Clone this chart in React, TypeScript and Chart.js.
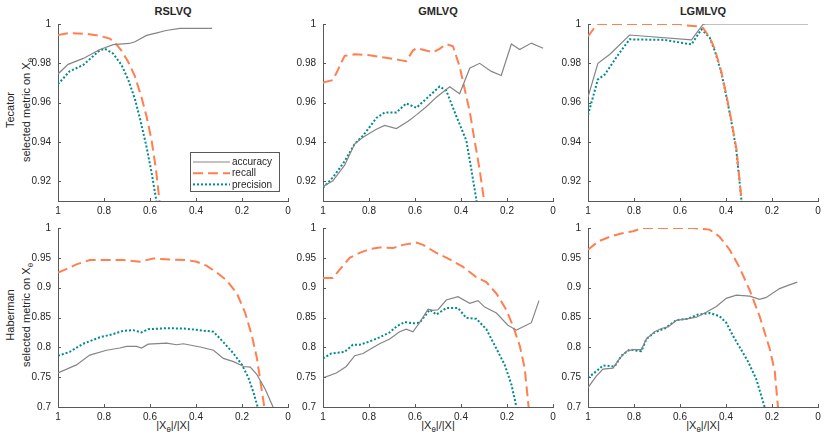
import React, { useEffect, useRef } from 'react';
import { Chart, registerables } from 'chart.js';

Chart.register(...registerables);

const FONT = "'Liberation Sans', Arial, Helvetica, sans-serif";
const AXIS = '#595959';
const TEXT = '#262626';

const METHODS = ['RSLVQ', 'GMLVQ', 'LGMLVQ'];
const DATASETS = ['Tecator', 'Haberman'];
const LEGEND_LABELS = ['accuracy', 'recall', 'precision'];

const X_TICKS = [0, 0.2, 0.4, 0.6, 0.8, 1];
const TOP_Y_TICKS = [0.92, 0.94, 0.96, 0.98, 1];
const BOT_Y_TICKS = [0.7, 0.75, 0.8, 0.85, 0.9, 0.95, 1];
const Y_MIN = [0.91, 0.7];

// ---- Tecator / RSLVQ
const TEC_RSLVQ_ACC_X = [1, 0.956, 0.89, 0.82, 0.76, 0.69, 0.665, 0.615, 0.57, 0.53, 0.47, 0.33];
const TEC_RSLVQ_ACC_Y = [0.9746, 0.9795, 0.9825, 0.9869, 0.9895, 0.9901, 0.991, 0.9942, 0.9955, 0.9967, 0.9978, 0.9978];
const TEC_RSLVQ_REC_X = [1, 0.95, 0.875, 0.82, 0.775, 0.753, 0.724, 0.695, 0.666, 0.637, 0.615, 0.593, 0.574, 0.56, 0.54];
const TEC_RSLVQ_REC_Y = [0.9944, 0.9954, 0.995, 0.994, 0.9926, 0.9906, 0.9865, 0.9808, 0.9735, 0.9628, 0.953, 0.9408, 0.926, 0.9113, 0.89];
const TEC_RSLVQ_PRE_X = [1, 0.95, 0.89, 0.82, 0.797, 0.76, 0.724, 0.695, 0.666, 0.644, 0.615, 0.593, 0.574, 0.55];
const TEC_RSLVQ_PRE_Y = [0.9694, 0.9759, 0.9792, 0.9865, 0.9874, 0.9849, 0.9792, 0.9718, 0.962, 0.9522, 0.9375, 0.9244, 0.9113, 0.89];

// ---- Tecator / GMLVQ
const TEC_GMLVQ_ACC_X = [1, 0.957, 0.906, 0.862, 0.826, 0.768, 0.732, 0.681, 0.63, 0.594, 0.551, 0.507, 0.449, 0.406, 0.362, 0.319, 0.268, 0.225, 0.181, 0.145, 0.094, 0.043];
const TEC_GMLVQ_ACC_Y = [0.9174, 0.9203, 0.9282, 0.9391, 0.9424, 0.9465, 0.9484, 0.9468, 0.9506, 0.9538, 0.9579, 0.9628, 0.9681, 0.9645, 0.9775, 0.98, 0.9759, 0.9738, 0.9898, 0.987, 0.9903, 0.9877];
const TEC_GMLVQ_REC_X = [1, 0.957, 0.935, 0.906, 0.862, 0.797, 0.725, 0.638, 0.609, 0.594, 0.522, 0.493, 0.464, 0.435, 0.406, 0.384, 0.362, 0.341, 0.319, 0.3, 0.28];
const TEC_GMLVQ_REC_Y = [0.9702, 0.9715, 0.9767, 0.9838, 0.9846, 0.9841, 0.9828, 0.9811, 0.9865, 0.9877, 0.9857, 0.9874, 0.9898, 0.9887, 0.9784, 0.9669, 0.9555, 0.9408, 0.926, 0.9105, 0.89];
const TEC_GMLVQ_PRE_X = [1, 0.957, 0.906, 0.862, 0.826, 0.768, 0.732, 0.681, 0.638, 0.594, 0.551, 0.493, 0.464, 0.42, 0.377, 0.355, 0.333, 0.32];
const TEC_GMLVQ_PRE_Y = [0.9167, 0.922, 0.9302, 0.9391, 0.9432, 0.9522, 0.955, 0.955, 0.9596, 0.9574, 0.962, 0.9682, 0.9661, 0.953, 0.9408, 0.926, 0.9105, 0.89];

// ---- Tecator / LGMLVQ
const TEC_LGMLVQ_ACC_X = [1, 0.957, 0.906, 0.819, 0.55, 0.5, 0.486, 0.043];
const TEC_LGMLVQ_ACC_Y = [0.9628, 0.98, 0.9845, 0.9944, 0.9919, 0.9998, 1, 1];
const TEC_LGMLVQ_REC_X = [1, 0.978, 0.957, 0.6, 0.572, 0.529, 0.5, 0.471, 0.449, 0.42, 0.399, 0.377, 0.355, 0.333, 0.32];
const TEC_LGMLVQ_REC_Y = [0.9937, 0.9972, 1, 1, 0.9993, 0.9988, 0.998, 0.9931, 0.9874, 0.9756, 0.9642, 0.9512, 0.9366, 0.9113, 0.89];
const TEC_LGMLVQ_PRE_X = [1, 0.957, 0.927, 0.87, 0.819, 0.667, 0.55, 0.507, 0.471, 0.449, 0.42, 0.399, 0.377, 0.355, 0.333, 0.32];
const TEC_LGMLVQ_PRE_Y = [0.9538, 0.9718, 0.9743, 0.9842, 0.9922, 0.9919, 0.9896, 0.9973, 0.9931, 0.9865, 0.9751, 0.9636, 0.9506, 0.9358, 0.9104, 0.89];

// ---- Haberman / RSLVQ
const HAB_RSLVQ_ACC_X = [1, 0.92, 0.862, 0.789, 0.731, 0.702, 0.658, 0.637, 0.608, 0.528, 0.484, 0.455, 0.382, 0.324, 0.281, 0.237, 0.193, 0.164, 0.135, 0.099, 0.065, 0.055];
const HAB_RSLVQ_ACC_Y = [0.757, 0.7706, 0.787, 0.7951, 0.7989, 0.8016, 0.8016, 0.7989, 0.8054, 0.807, 0.8043, 0.806, 0.8005, 0.7951, 0.7815, 0.7761, 0.7679, 0.7668, 0.7543, 0.7299, 0.7, 0.69];
const HAB_RSLVQ_REC_X = [1, 0.964, 0.92, 0.862, 0.789, 0.717, 0.644, 0.586, 0.513, 0.44, 0.397, 0.353, 0.31, 0.266, 0.222, 0.186, 0.157, 0.135, 0.118, 0.103, 0.09];
const HAB_RSLVQ_REC_Y = [0.9255, 0.931, 0.9391, 0.9462, 0.9462, 0.9462, 0.9435, 0.9489, 0.9473, 0.9462, 0.9435, 0.9364, 0.9255, 0.912, 0.8902, 0.8576, 0.8196, 0.7815, 0.738, 0.7, 0.65];
const HAB_RSLVQ_PRE_X = [1, 0.949, 0.891, 0.818, 0.76, 0.717, 0.673, 0.637, 0.608, 0.528, 0.455, 0.397, 0.324, 0.281, 0.237, 0.2, 0.172, 0.15, 0.132, 0.12];
const HAB_RSLVQ_PRE_Y = [0.7859, 0.7924, 0.806, 0.8168, 0.8223, 0.8277, 0.8288, 0.825, 0.8304, 0.8321, 0.8315, 0.8293, 0.8261, 0.8087, 0.7897, 0.7706, 0.7489, 0.7244, 0.7, 0.66];

// ---- Haberman / GMLVQ
const HAB_GMLVQ_ACC_X = [1, 0.942, 0.899, 0.862, 0.826, 0.797, 0.754, 0.71, 0.667, 0.638, 0.609, 0.58, 0.543, 0.522, 0.5, 0.464, 0.413, 0.362, 0.326, 0.297, 0.246, 0.196, 0.159, 0.094, 0.061];
const HAB_GMLVQ_ACC_Y = [0.7489, 0.757, 0.7679, 0.7859, 0.7897, 0.7962, 0.806, 0.8141, 0.8261, 0.8304, 0.8261, 0.8413, 0.8641, 0.862, 0.863, 0.8793, 0.8848, 0.8739, 0.8783, 0.8674, 0.8576, 0.837, 0.8288, 0.8413, 0.8783];
const HAB_GMLVQ_REC_X = [1, 0.957, 0.92, 0.884, 0.841, 0.797, 0.754, 0.696, 0.652, 0.594, 0.565, 0.507, 0.449, 0.391, 0.333, 0.29, 0.246, 0.203, 0.174, 0.145, 0.123, 0.106, 0.09];
const HAB_GMLVQ_REC_Y = [0.9163, 0.9163, 0.9337, 0.95, 0.9582, 0.9647, 0.9674, 0.9663, 0.9717, 0.9755, 0.9717, 0.9582, 0.9473, 0.9348, 0.9174, 0.9092, 0.8902, 0.863, 0.8359, 0.8033, 0.7652, 0.7, 0.6];
const HAB_GMLVQ_PRE_X = [1, 0.964, 0.906, 0.87, 0.841, 0.797, 0.754, 0.71, 0.681, 0.645, 0.609, 0.58, 0.536, 0.507, 0.464, 0.413, 0.377, 0.333, 0.29, 0.246, 0.21, 0.181, 0.159, 0.15];
const HAB_GMLVQ_PRE_Y = [0.7815, 0.7897, 0.7924, 0.8043, 0.8043, 0.8098, 0.8168, 0.825, 0.8348, 0.8424, 0.8402, 0.8413, 0.863, 0.8549, 0.8658, 0.8658, 0.8494, 0.8478, 0.8304, 0.7978, 0.7706, 0.738, 0.7, 0.67];

// ---- Haberman / LGMLVQ
const HAB_LGMLVQ_ACC_X = [1, 0.964, 0.935, 0.891, 0.862, 0.833, 0.804, 0.768, 0.746, 0.71, 0.681, 0.652, 0.616, 0.572, 0.529, 0.486, 0.442, 0.399, 0.355, 0.297, 0.254, 0.225, 0.167, 0.13, 0.09];
const HAB_LGMLVQ_ACC_Y = [0.7326, 0.7516, 0.7636, 0.7652, 0.7815, 0.7935, 0.7962, 0.7962, 0.8141, 0.8261, 0.8315, 0.8342, 0.8451, 0.8478, 0.8505, 0.8587, 0.8685, 0.8821, 0.8875, 0.8859, 0.8804, 0.8837, 0.8984, 0.9038, 0.9092];
const HAB_LGMLVQ_REC_X = [1, 0.957, 0.906, 0.855, 0.804, 0.761, 0.543, 0.471, 0.428, 0.384, 0.341, 0.297, 0.254, 0.21, 0.188, 0.174, 0.16];
const HAB_LGMLVQ_REC_Y = [0.9636, 0.9772, 0.9853, 0.9908, 0.9946, 1, 1, 0.9973, 0.9853, 0.9636, 0.9337, 0.8957, 0.8522, 0.7978, 0.7598, 0.7, 0.62];
const HAB_LGMLVQ_PRE_X = [1, 0.964, 0.935, 0.884, 0.855, 0.819, 0.768, 0.746, 0.71, 0.667, 0.616, 0.565, 0.522, 0.471, 0.428, 0.399, 0.37, 0.341, 0.304, 0.268, 0.232, 0.22];
const HAB_LGMLVQ_PRE_Y = [0.7489, 0.7598, 0.7696, 0.7679, 0.7859, 0.7962, 0.7935, 0.8141, 0.825, 0.8315, 0.8456, 0.8478, 0.8549, 0.8576, 0.8522, 0.8413, 0.8196, 0.8005, 0.7761, 0.7462, 0.7, 0.68];

// panel grid: [row][col] -> [acc, rec, pre] as [xs, ys]
const PANELS: [number[], number[]][][][] = [
  [
    [[TEC_RSLVQ_ACC_X, TEC_RSLVQ_ACC_Y], [TEC_RSLVQ_REC_X, TEC_RSLVQ_REC_Y], [TEC_RSLVQ_PRE_X, TEC_RSLVQ_PRE_Y]],
    [[TEC_GMLVQ_ACC_X, TEC_GMLVQ_ACC_Y], [TEC_GMLVQ_REC_X, TEC_GMLVQ_REC_Y], [TEC_GMLVQ_PRE_X, TEC_GMLVQ_PRE_Y]],
    [[TEC_LGMLVQ_ACC_X, TEC_LGMLVQ_ACC_Y], [TEC_LGMLVQ_REC_X, TEC_LGMLVQ_REC_Y], [TEC_LGMLVQ_PRE_X, TEC_LGMLVQ_PRE_Y]],
  ],
  [
    [[HAB_RSLVQ_ACC_X, HAB_RSLVQ_ACC_Y], [HAB_RSLVQ_REC_X, HAB_RSLVQ_REC_Y], [HAB_RSLVQ_PRE_X, HAB_RSLVQ_PRE_Y]],
    [[HAB_GMLVQ_ACC_X, HAB_GMLVQ_ACC_Y], [HAB_GMLVQ_REC_X, HAB_GMLVQ_REC_Y], [HAB_GMLVQ_PRE_X, HAB_GMLVQ_PRE_Y]],
    [[HAB_LGMLVQ_ACC_X, HAB_LGMLVQ_ACC_Y], [HAB_LGMLVQ_REC_X, HAB_LGMLVQ_REC_Y], [HAB_LGMLVQ_PRE_X, HAB_LGMLVQ_PRE_Y]],
  ],
];

const STYLES = [
  { borderColor: '#858585', borderWidth: 1.2, borderDash: [] as number[] },
  { borderColor: '#ff7f50', borderWidth: 2, borderDash: [10, 5] },
  { borderColor: '#008b8b', borderWidth: 2, borderDash: [2, 2] },
];

// layout (px)
const PLOT_LEFT = [58, 323, 588];
const PLOT_W = 230;
const ROW_TOP = [19, 223];
const ROW_BOTTOM = [201, 407];
const PAD_L = 44, PAD_R = 12, PAD_T = 8, PAD_B = 20;

const fmt = (v: number | string) => String(parseFloat(Number(v).toFixed(2)));

const inwardTicks = {
  id: 'inwardTicks',
  afterDraw(chart: any) {
    const { ctx, chartArea: a, scales: { x, y } } = chart;
    ctx.save();
    ctx.strokeStyle = AXIS;
    ctx.lineWidth = 1;
    ctx.beginPath();
    x.ticks.forEach((t: any) => {
      const px = Math.round(x.getPixelForValue(t.value)) + 0.5;
      ctx.moveTo(px, a.bottom); ctx.lineTo(px, a.bottom - 3);
    });
    y.ticks.forEach((t: any) => {
      const py = Math.round(y.getPixelForValue(t.value)) + 0.5;
      ctx.moveTo(a.left, py); ctx.lineTo(a.left + 3, py);
    });
    ctx.stroke();
    ctx.restore();
  },
};

const legendBox = {
  id: 'legendBox',
  afterDraw(chart: any) {
    const { ctx, chartArea: a } = chart;
    const w = 89, h = 39;
    const left = Math.round(a.right - 9 - w), top = Math.round(a.bottom - 10 - h);
    ctx.save();
    ctx.fillStyle = '#fff';
    ctx.fillRect(left, top, w, h);
    ctx.strokeStyle = AXIS;
    ctx.lineWidth = 1;
    ctx.strokeRect(left + 0.5, top + 0.5, w, h);
    chart.data.datasets.forEach((ds: any, i: number) => {
      const yy = top + 10 + i * 11.2;
      ctx.beginPath();
      ctx.setLineDash(ds.borderDash || []);
      ctx.strokeStyle = ds.borderColor;
      ctx.lineWidth = ds.borderWidth;
      ctx.moveTo(left + 3, yy);
      ctx.lineTo(left + 40, yy);
      ctx.stroke();
      ctx.setLineDash([]);
      ctx.fillStyle = TEXT;
      ctx.font = `10px ${FONT}`;
      ctx.textBaseline = 'middle';
      ctx.fillText(ds.label, left + 42, yy + 0.5);
    });
    ctx.restore();
  },
};

function Panel({ row, col }: { row: number; col: number }) {
  const ref = useRef<HTMLCanvasElement>(null);
  const h = ROW_BOTTOM[row] - ROW_TOP[row];

  useEffect(() => {
    if (!ref.current) return;
    const yTicks = row === 0 ? TOP_Y_TICKS : BOT_Y_TICKS;
    const chart = new Chart(ref.current, {
      type: 'line',
      data: {
        datasets: PANELS[row][col].map(([xs, ys], i) => ({
          label: LEGEND_LABELS[i],
          data: xs.map((x, j) => ({ x, y: ys[j] })),
          ...STYLES[i],
          fill: false,
          tension: 0,
          pointRadius: 0,
          pointHoverRadius: 0,
        })),
      },
      options: {
        responsive: false,
        animation: false,
        events: [],
        layout: { padding: { left: 0, right: PAD_R, top: PAD_T, bottom: 0 } },
        plugins: { legend: { display: false }, tooltip: { enabled: false }, title: { display: false } },
        scales: {
          x: {
            type: 'linear',
            min: 0,
            max: 1,
            reverse: true,
            afterBuildTicks: (s: any) => { s.ticks = X_TICKS.map(value => ({ value })); },
            afterFit: (s: any) => { s.height = PAD_B; },
            grid: { display: false, drawTicks: false },
            border: { display: true, color: AXIS, width: 1 },
            ticks: { padding: 4, autoSkip: false, maxRotation: 0, color: TEXT, font: { family: FONT, size: 10 }, callback: (v: any) => fmt(v) },
          },
          y: {
            type: 'linear',
            min: Y_MIN[row],
            max: 1,
            afterBuildTicks: (s: any) => { s.ticks = yTicks.map(value => ({ value })); },
            afterFit: (s: any) => { s.width = PAD_L; },
            grid: { display: false, drawTicks: false },
            border: { display: true, color: AXIS, width: 1 },
            ticks: { padding: 7, autoSkip: false, color: TEXT, font: { family: FONT, size: 10 }, callback: (v: any) => fmt(v) },
          },
        },
      } as any,
      plugins: row === 0 && col === 0 ? [inwardTicks, legendBox] : [inwardTicks],
    });
    return () => chart.destroy();
  }, [row, col]);

  return (
    <canvas
      ref={ref}
      width={PAD_L + PLOT_W + PAD_R}
      height={PAD_T + h + PAD_B}
      style={{ position: 'absolute', left: PLOT_LEFT[col] - PAD_L, top: ROW_TOP[row] - PAD_T }}
    />
  );
}

const Xsub = () => <>X<sub style={{ fontSize: '0.72em', verticalAlign: '-0.35em', lineHeight: 0 }}>θ</sub></>;

const label: React.CSSProperties = {
  position: 'absolute', whiteSpace: 'nowrap', color: TEXT, fontFamily: FONT, fontSize: 11, lineHeight: '12px',
};

export default function App() {
  return (
    <div style={{ position: 'absolute', left: 0, top: 0, width: 831, height: 439, background: '#fff', overflow: 'hidden' }}>
      {METHODS.map((m, c) => (
        <div key={m} style={{ ...label, fontWeight: 700, left: PLOT_LEFT[c] + PLOT_W / 2, top: 11, transform: 'translate(-50%,-50%)' }}>{m}</div>
      ))}
      {DATASETS.map((d, r) => {
        const cy = (ROW_TOP[r] + ROW_BOTTOM[r]) / 2;
        return (
          <React.Fragment key={d}>
            <div style={{ ...label, left: 9.5, top: cy, transform: 'translate(-50%,-50%) rotate(-90deg)' }}>{d}</div>
            <div style={{ ...label, left: 26, top: cy, transform: 'translate(-50%,-50%) rotate(-90deg)' }}>selected metric on <Xsub /></div>
          </React.Fragment>
        );
      })}
      {METHODS.map((m, c) => (
        <div key={m + 'x'} style={{ ...label, left: PLOT_LEFT[c] + PLOT_W / 2, top: 425, transform: 'translate(-50%,-50%)' }}>|<Xsub />|/|X|</div>
      ))}
      {[0, 1].map(r => [0, 1, 2].map(c => <Panel key={`${r}-${c}`} row={r} col={c} />))}
    </div>
  );
}
